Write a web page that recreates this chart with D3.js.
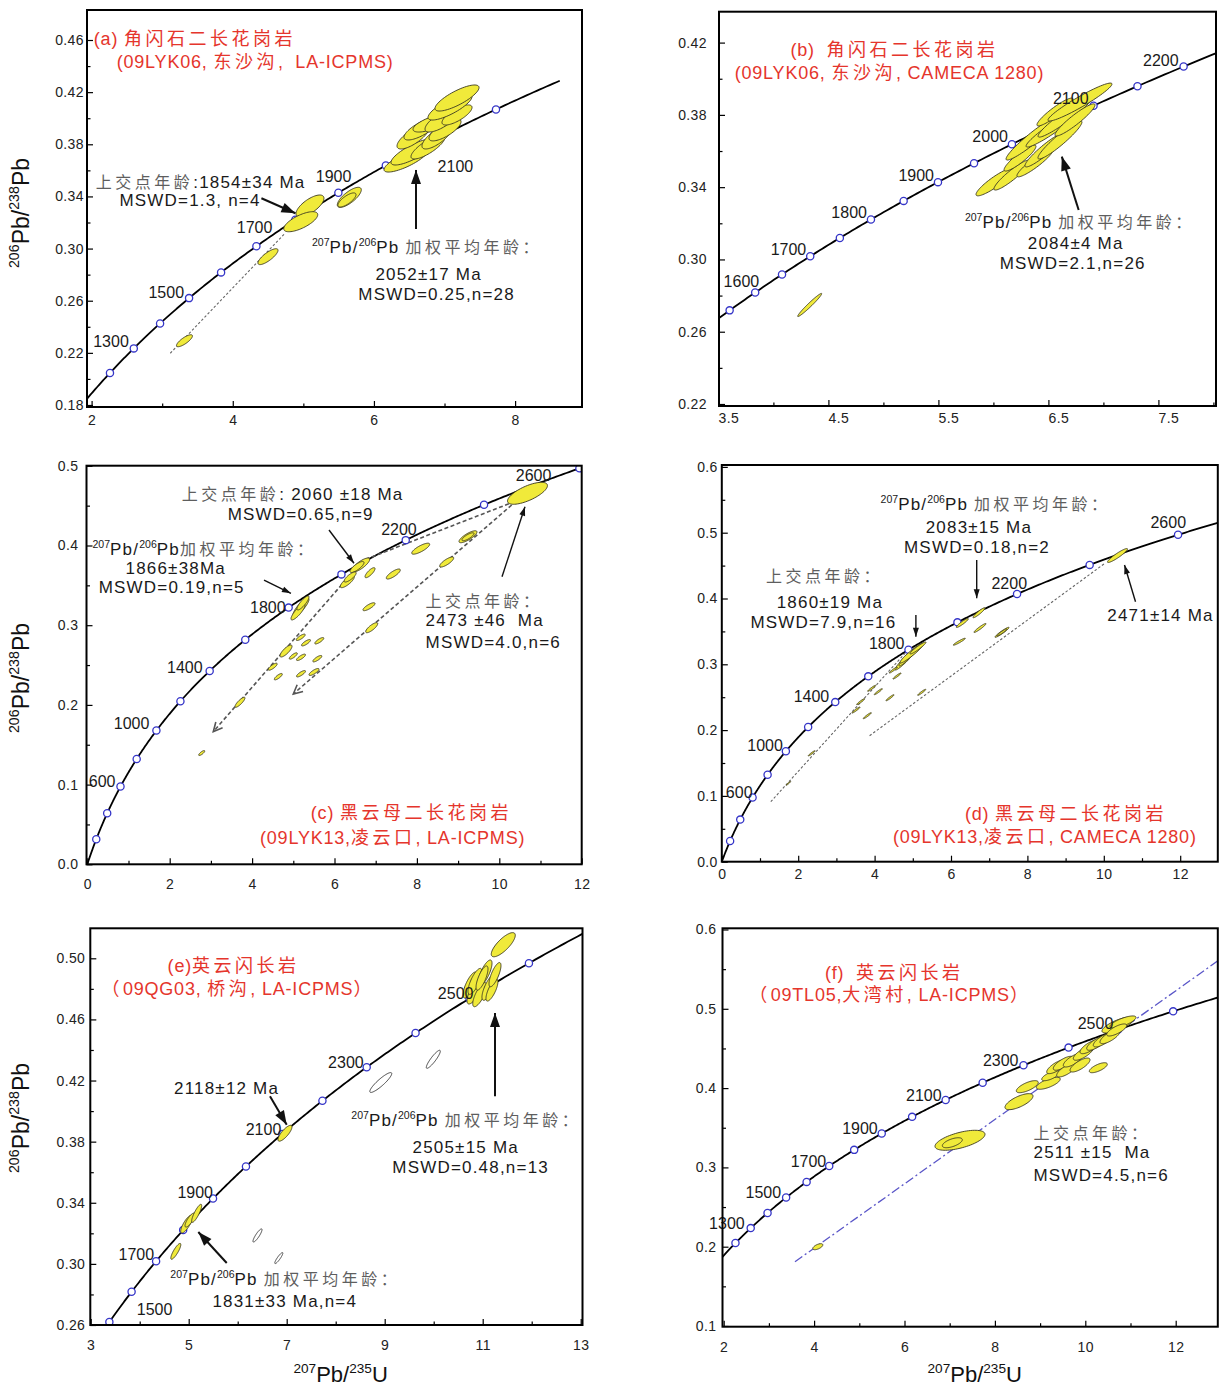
<!DOCTYPE html>
<html>
<head>
<meta charset="utf-8">
<script src="https://cdn.jsdelivr.net/npm/d3@7"></script>
<style>
  body { margin: 0; background: #fff; }
  svg text { white-space: pre; }
</style>
</head>
<body>
<svg id="chart" width="1225" height="1385"></svg>
<script>
// decay constants, per Ma (Steiger & Jaeger)
const LAMBDA_238 = 1.55125e-4;
const LAMBDA_235 = 9.8485e-4;

// ---------- (a) 09LYK06 LA-ICPMS ----------
const ageMarksA = [1200, 1300, 1400, 1500, 1600, 1700, 1800, 1900, 2000, 2100, 2200];
const ageLabelsA = [1300, 1500, 1700, 1900, 2100];
const xTicksA = [2, 4, 6, 8], xMinorA = [3, 5, 7];
const yTicksA = [0.18, 0.22, 0.26, 0.30, 0.34, 0.38, 0.42, 0.46];
const yMinorA = [0.20, 0.24, 0.28, 0.32, 0.36, 0.40, 0.44];
// [207Pb/235U, 206Pb/238U, sx, sy, rho]
const ellipsesA = [
  [6.455, 0.3679, 0.312, 0.0092, 0.8], [6.554, 0.3741, 0.312, 0.0100, 0.8],
  [6.766, 0.3779, 0.241, 0.0092, 0.8], [6.554, 0.3856, 0.227, 0.0092, 0.75],
  [6.894, 0.3856, 0.213, 0.0092, 0.75], [6.667, 0.3917, 0.241, 0.0084, 0.75],
  [7.007, 0.3910, 0.227, 0.0084, 0.75], [6.823, 0.3963, 0.269, 0.0069, 0.7],
  [6.965, 0.3986, 0.241, 0.0092, 0.75], [7.177, 0.4025, 0.213, 0.0077, 0.75],
  [7.078, 0.4086, 0.312, 0.0100, 0.8], [7.177, 0.4155, 0.312, 0.0100, 0.8],
  [5.094, 0.3327, 0.198, 0.0084, 0.7], [4.963, 0.3206, 0.241, 0.0077, 0.7],
  [5.651, 0.3393, 0.170, 0.0077, 0.75], [5.618, 0.3373, 0.128, 0.0054, 0.75],
  [4.499, 0.2938, 0.142, 0.0061, 0.8], [3.316, 0.2293, 0.113, 0.0046, 0.8]
];
const discordiaA = [[[3.115, 0.2197], [4.740, 0.3117]]];
const arrowsA = [[[4.406, 0.3386], [4.888, 0.3271]], [[6.596, 0.3150], [6.596, 0.3603]]];

// ---------- (b) 09LYK06 CAMECA ----------
const ageMarksB = [1550, 1600, 1650, 1700, 1750, 1800, 1850, 1900, 1950, 2000, 2050, 2100, 2150, 2200];
const ageLabelsB = [1600, 1700, 1800, 1900, 2000, 2100, 2200];
const xTicksB = [3.5, 4.5, 5.5, 6.5, 7.5], xMinorB = [4, 5, 6, 7, 8];
const yTicksB = [0.22, 0.26, 0.30, 0.34, 0.38, 0.42];
const yMinorB = [0.24, 0.28, 0.32, 0.36, 0.40];
const ellipsesB = [
  [4.330, 0.2748, 0.109, 0.0064, 0.975],
  [6.015, 0.3429, 0.173, 0.0077, 0.9], [6.169, 0.3467, 0.164, 0.0083, 0.92],
  [6.242, 0.3561, 0.145, 0.0072, 0.9], [6.378, 0.3534, 0.164, 0.0077, 0.92],
  [6.360, 0.3672, 0.245, 0.0122, 0.95], [6.469, 0.3606, 0.182, 0.0094, 0.93],
  [6.605, 0.3661, 0.200, 0.0105, 0.94], [6.542, 0.3727, 0.245, 0.0105, 0.95],
  [6.651, 0.3788, 0.245, 0.0111, 0.95], [6.560, 0.3816, 0.164, 0.0077, 0.92],
  [6.742, 0.3772, 0.182, 0.0089, 0.93], [6.787, 0.3871, 0.291, 0.0105, 0.95]
];
const arrowsB = [[[6.775, 0.3274], [6.622, 0.3569]]];

// ---------- (c) 09LYK13 LA-ICPMS ----------
const ageMarksC = [200, 400, 600, 800, 1000, 1200, 1400, 1600, 1800, 2000, 2200, 2400, 2600];
const ageLabelsC = [600, 1000, 1400, 1800, 2200, 2600];
const xTicksC = [0, 2, 4, 6, 8, 10, 12], xMinorC = [1, 3, 5, 7, 9, 11];
const yTicksC = [0, 0.1, 0.2, 0.3, 0.4, 0.5];
const yMinorC = [0.05, 0.15, 0.25, 0.35, 0.45];
const ellipsesC = [
  [10.684, 0.4655, 0.485, 0.0138, 0.7],
  [9.240, 0.4110, 0.218, 0.0075, 0.8], [9.240, 0.4110, 0.146, 0.0050, 0.8],
  [8.092, 0.3960, 0.218, 0.0069, 0.8], [8.723, 0.3793, 0.170, 0.0063, 0.8],
  [6.636, 0.3755, 0.218, 0.0088, 0.8], [6.546, 0.3730, 0.170, 0.0069, 0.8],
  [6.311, 0.3546, 0.170, 0.0075, 0.8], [6.381, 0.3605, 0.146, 0.0063, 0.8],
  [6.862, 0.3659, 0.121, 0.0063, 0.8], [7.427, 0.3642, 0.170, 0.0063, 0.8],
  [6.837, 0.3232, 0.146, 0.0050, 0.8], [6.903, 0.2969, 0.146, 0.0063, 0.8],
  [5.187, 0.3228, 0.194, 0.0113, 0.85], [5.114, 0.3166, 0.170, 0.0100, 0.85],
  [5.235, 0.3279, 0.146, 0.0088, 0.85],
  [5.180, 0.2848, 0.109, 0.0040, 0.8], [5.308, 0.2780, 0.109, 0.0040, 0.8],
  [5.631, 0.2805, 0.109, 0.0040, 0.8], [4.823, 0.2676, 0.146, 0.0075, 0.8],
  [5.000, 0.2614, 0.097, 0.0040, 0.8], [5.187, 0.2597, 0.109, 0.0040, 0.8],
  [5.583, 0.2580, 0.109, 0.0040, 0.8], [4.500, 0.2479, 0.109, 0.0044, 0.8],
  [4.636, 0.2354, 0.097, 0.0040, 0.8], [5.187, 0.2391, 0.109, 0.0040, 0.8],
  [5.502, 0.2413, 0.121, 0.0044, 0.8], [3.706, 0.2033, 0.121, 0.0063, 0.85],
  [2.777, 0.1396, 0.073, 0.0031, 0.8]
];
const discordiaC = [
  [[6.699, 0.3818], [3.058, 0.1664]],
  [[10.301, 0.4508], [5.000, 0.2137]],
  [[6.757, 0.3827], [10.260, 0.4529]]
];
const arrowsC = [
  [[5.867, 0.4195], [6.473, 0.3777]],
  [[4.289, 0.3567], [4.942, 0.3400]],
  [[10.066, 0.3609], [10.624, 0.4487]]
];

// ---------- (d) 09LYK13 CAMECA ----------
const ageMarksD = [200, 400, 600, 800, 1000, 1200, 1400, 1600, 1800, 2000, 2200, 2400, 2600];
const ageLabelsD = [600, 1000, 1400, 1800, 2200, 2600];
const xTicksD = [0, 2, 4, 6, 8, 10, 12], xMinorD = [1, 3, 5, 7, 9, 11];
const yTicksD = [0, 0.1, 0.2, 0.3, 0.4, 0.5, 0.6];
const yMinorD = [0.05, 0.15, 0.25, 0.35, 0.45, 0.55];
const ellipsesD = [
  [10.359, 0.4653, 0.262, 0.0106, 0.93],
  [6.733, 0.3784, 0.157, 0.0076, 0.93], [6.296, 0.3628, 0.157, 0.0068, 0.93],
  [6.759, 0.3552, 0.157, 0.0068, 0.95], [6.217, 0.3343, 0.157, 0.0053, 0.95],
  [7.335, 0.3486, 0.183, 0.0076, 0.95], [7.335, 0.3486, 0.131, 0.0053, 0.95],
  [4.796, 0.3065, 0.262, 0.0152, 0.95], [4.874, 0.3111, 0.236, 0.0137, 0.95],
  [4.979, 0.3172, 0.314, 0.0152, 0.95], [5.136, 0.3248, 0.209, 0.0091, 0.95],
  [4.490, 0.2913, 0.105, 0.0046, 0.95], [4.586, 0.2822, 0.105, 0.0046, 0.95],
  [3.924, 0.2635, 0.105, 0.0046, 0.95], [4.097, 0.2584, 0.105, 0.0046, 0.95],
  [4.403, 0.2492, 0.105, 0.0046, 0.95], [5.233, 0.2574, 0.105, 0.0046, 0.95],
  [3.636, 0.2432, 0.105, 0.0046, 0.95], [3.513, 0.2305, 0.105, 0.0046, 0.95],
  [3.809, 0.2219, 0.105, 0.0046, 0.95], [2.353, 0.1647, 0.090, 0.0040, 0.95],
  [1.743, 0.1191, 0.060, 0.0030, 0.95]
];
const discordiaD = [
  [[1.283, 0.0912], [4.874, 0.3217]],
  [[3.869, 0.1915], [10.029, 0.4535]]
];
const arrowsD = [
  [[6.673, 0.4585], [6.673, 0.4003]],
  [[5.081, 0.3749], [5.081, 0.3419]],
  [[10.830, 0.3951], [10.542, 0.4509]]
];

// ---------- (e) 09QG03 LA-ICPMS ----------
const ageMarksE = [1500, 1600, 1700, 1800, 1900, 2000, 2100, 2200, 2300, 2400, 2500, 2600];
const ageLabelsE = [1500, 1700, 1900, 2100, 2300, 2500];
const xTicksE = [3, 5, 7, 9, 11, 13], xMinorE = [4, 6, 8, 10, 12];
const yTicksE = [0.26, 0.30, 0.34, 0.38, 0.42, 0.46, 0.50];
const yMinorE = [0.28, 0.32, 0.36, 0.40, 0.44, 0.48];
const ellipsesE = [
  [11.420, 0.5089, 0.245, 0.0079, 0.78],
  [10.741, 0.4825, 0.143, 0.0085, 0.75], [10.843, 0.4786, 0.163, 0.0085, 0.75],
  [10.843, 0.4849, 0.143, 0.0085, 0.75], [10.940, 0.4762, 0.143, 0.0079, 0.75],
  [11.047, 0.4904, 0.143, 0.0085, 0.75], [10.986, 0.4871, 0.122, 0.0079, 0.75],
  [11.128, 0.4810, 0.143, 0.0085, 0.75], [11.189, 0.4792, 0.122, 0.0072, 0.75],
  [11.251, 0.4893, 0.122, 0.0079, 0.75],
  [6.965, 0.3855, 0.143, 0.0052, 0.8],
  [4.959, 0.3261, 0.122, 0.0059, 0.8], [5.027, 0.3287, 0.102, 0.0046, 0.8],
  [5.163, 0.3331, 0.102, 0.0059, 0.85], [4.737, 0.3082, 0.102, 0.0052, 0.85]
];
const openEllipsesE = [
  [8.920, 0.4187, 0.224, 0.0065, 0.9], [9.992, 0.4339, 0.143, 0.0059, 0.9],
  [6.404, 0.3186, 0.092, 0.0043, 0.88], [6.839, 0.3038, 0.082, 0.0036, 0.9]
];
const arrowsE = [
  [[6.659, 0.4097], [7.000, 0.3911]],
  [[11.251, 0.4097], [11.251, 0.4642]],
  [[5.776, 0.3006], [5.196, 0.3209]]
];

// ---------- (f) 09TL05 LA-ICPMS ----------
const ageMarksF = [1200, 1300, 1400, 1500, 1600, 1700, 1800, 1900, 2000, 2100, 2200, 2300, 2400, 2500, 2600];
const ageLabelsF = [1300, 1500, 1700, 1900, 2100, 2300, 2500];
const xTicksF = [2, 4, 6, 8, 10, 12], xMinorF = [3, 5, 7, 9, 11];
const yTicksF = [0.1, 0.2, 0.3, 0.4, 0.5, 0.6];
const yMinorF = [0.15, 0.25, 0.35, 0.45, 0.55];
const ellipsesF = [
  [4.082, 0.2000, 0.111, 0.0038, 0.6],
  [7.228, 0.3342, 0.553, 0.0126, 0.6], [7.058, 0.3311, 0.221, 0.0063, 0.6],
  [8.533, 0.3829, 0.310, 0.0101, 0.7], [8.717, 0.4018, 0.243, 0.0076, 0.7],
  [9.181, 0.4061, 0.265, 0.0076, 0.7], [9.235, 0.4156, 0.199, 0.0063, 0.7],
  [10.288, 0.4257, 0.199, 0.0063, 0.7],
  [9.367, 0.4270, 0.221, 0.0088, 0.75], [9.513, 0.4313, 0.221, 0.0088, 0.75],
  [9.588, 0.4228, 0.221, 0.0088, 0.75], [9.735, 0.4354, 0.221, 0.0088, 0.75],
  [9.883, 0.4291, 0.221, 0.0088, 0.75], [9.956, 0.4439, 0.221, 0.0088, 0.75],
  [10.104, 0.4522, 0.221, 0.0088, 0.75], [10.252, 0.4565, 0.221, 0.0088, 0.75],
  [10.398, 0.4607, 0.221, 0.0088, 0.75], [10.546, 0.4648, 0.221, 0.0088, 0.75],
  [10.723, 0.4796, 0.354, 0.0101, 0.75], [10.834, 0.4834, 0.288, 0.0076, 0.75],
  [10.695, 0.4733, 0.221, 0.0076, 0.75]
];
const discordiaF = [[[3.577, 0.181], [12.98, 0.5624]]];

// ---------- layout ----------
const RED = '#e5352c';
const LATIN = '"Liberation Sans", Arial, sans-serif';
const CJK = '"Noto Sans CJK SC", sans-serif';

const panels = [
  { id: 'a', box: [87, 10, 582, 407], xDomain: [2, 8], xRange: [91.6, 515.1], yDomain: [0.18, 0.46], yRange: [405, 40],
    xTicks: xTicksA, xMinor: xMinorA, yTicks: yTicksA, yMinor: yMinorA, xFmt: 'd', yFmt: '.2f', xPad: 8, yPad: 3, xShift: 0,
    curveMax: 2300,
    ages: ageMarksA, ageLabels: ageLabelsA,
    offsets: { 1300: [-5, -7], 1500: [-5, -6], 1700: [16, -19], 1900: [13, -17], 2100: [35, 29] },
    ellipses: ellipsesA, open: [], lines: discordiaA, lineStyle: 'dot', arrows: arrowsA, arrowStyle: 'big', yTitle: 213,
    notes: [
      ['title', '(a) 角闪石二长花岗岩', 93.8, 38.3],
      ['title', '(09LYK06, 东沙沟,  LA-ICPMS)', 116.7, 61.7],
      ['note', '上交点年龄:1854±34 Ma', 95.7, 181.7],
      ['note', 'MSWD=1.3, n=4', 119.4, 200],
      ['note', '^207Pb/^206Pb 加权平均年龄：', 312, 247.3],
      ['note', '2052±17 Ma', 428.6, 274, 'middle'],
      ['note', 'MSWD=0.25,n=28', 436.6, 294.3, 'middle']
    ] },
  { id: 'b', box: [719, 11.7, 1216, 406], xDomain: [4.5, 7.5], xRange: [828.4, 1158.4], yDomain: [0.22, 0.42], yRange: [404, 42.6],
    xTicks: xTicksB, xMinor: xMinorB, yTicks: yTicksB, yMinor: yMinorB, xFmt: '.1f', yFmt: '.2f', xPad: 7, yPad: 12, xShift: 10,
    ages: ageMarksB, ageLabels: ageLabelsB,
    offsets: { 1600: [4, -11], 1700: [-4, -7], 1800: [-4, -7], 1900: [-4, -7], 2000: [-4, -8], 2100: [-5, -7], 2200: [-5, -6] },
    ellipses: ellipsesB, open: [], lines: [], lineStyle: 'dot', arrows: arrowsB, arrowStyle: 'big',
    notes: [
      ['title', '(b)  角闪石二长花岗岩', 790.4, 50],
      ['title', '(09LYK06, 东沙沟, CAMECA 1280)', 734.7, 72.7],
      ['note', '^207Pb/^206Pb 加权平均年龄：', 964.9, 221.7],
      ['note', '2084±4 Ma', 1075.7, 242.7, 'middle'],
      ['note', 'MSWD=2.1,n=26', 1072.7, 263.3, 'middle']
    ] },
  { id: 'c', box: [86.5, 465.7, 581.7, 864.3], xDomain: [0, 12], xRange: [87.3, 581.7], yDomain: [0, 0.5], yRange: [864.3, 465.8],
    xTicks: xTicksC, xMinor: xMinorC, yTicks: yTicksC, yMinor: yMinorC, xFmt: 'd', yFmt: '.1f', xPad: 15, yPad: 8, xShift: 0,
    ages: ageMarksC, ageLabels: ageLabelsC,
    offsets: { 600: [-5, -5], 1000: [-7, -7], 1400: [-7, -4], 1800: [-3, 0], 2200: [11, -11], 2600: [-28, 7] },
    ellipses: ellipsesC, open: [], lines: discordiaC, lineStyle: 'dash', arrows: arrowsC, arrowStyle: 'small', yTitle: 678,
    notes: [
      ['note', '上交点年龄: 2060 ±18 Ma', 181.8, 494.3],
      ['note', 'MSWD=0.65,n=9', 227.7, 514],
      ['note', '^207Pb/^206Pb加权平均年龄：', 92.5, 549.3],
      ['note', '1866±38Ma', 125.5, 568.3],
      ['note', 'MSWD=0.19,n=5', 98.7, 587.3],
      ['note', '上交点年龄：', 425.6, 600.7],
      ['note', '2473 ±46  Ma', 425.6, 620],
      ['note', 'MSWD=4.0,n=6', 425.6, 641.7],
      ['title', '(c) 黑云母二长花岗岩', 310.8, 813],
      ['title', '(09LYK13,凌云口, LA-ICPMS)', 260, 838]
    ] },
  { id: 'd', box: [721.8, 465, 1217.8, 861.7], xDomain: [0, 12], xRange: [721.8, 1180.2], yDomain: [0, 0.6], yRange: [861.7, 466.9],
    xTicks: xTicksD, xMinor: xMinorD, yTicks: yTicksD, yMinor: yMinorD, xFmt: 'd', yFmt: '.1f', xPad: 7, yPad: 4, xShift: 0,
    ages: ageMarksD, ageLabels: ageLabelsD,
    offsets: { 600: [0, -5], 1000: [-3, -6], 1400: [-6, -6], 1800: [-4, -7], 2200: [10, -11], 2600: [8, -13] },
    ellipses: ellipsesD, open: [], lines: discordiaD, lineStyle: 'dot', arrows: arrowsD, arrowStyle: 'small',
    notes: [
      ['note', '^207Pb/^206Pb 加权平均年龄：', 880.6, 504],
      ['note', '2083±15 Ma', 925.7, 526.7],
      ['note', 'MSWD=0.18,n=2', 904, 547.3],
      ['note', '上交点年龄：', 766, 576],
      ['note', '1860±19 Ma', 776.7, 601.7],
      ['note', 'MSWD=7.9,n=16', 750.4, 621.7],
      ['note', '2471±14 Ma', 1107.3, 615],
      ['title', '(d) 黑云母二长花岗岩', 964.9, 814],
      ['title', '(09LYK13,凌云口, CAMECA 1280)', 893, 836.5]
    ] },
  { id: 'e', box: [90.3, 928.3, 582.5, 1325], xDomain: [3, 13], xRange: [90.7, 580.7], yDomain: [0.26, 0.50], yRange: [1325, 958.3],
    xTicks: xTicksE, xMinor: xMinorE, yTicks: yTicksE, yMinor: yMinorE, xFmt: 'd', yFmt: '.2f', xPad: 15, yPad: 5, xShift: 0,
    ages: ageMarksE, ageLabels: ageLabelsE,
    offsets: { 1500: [63, -13], 1700: [-2, -7], 1900: [0, -6], 2100: [-1, -5], 2300: [-3, -5], 2500: [4, -5] },
    ellipses: ellipsesE, open: openEllipsesE, lines: [], lineStyle: 'dot', arrows: arrowsE, arrowStyle: 'big', yTitle: 1118, xTitle: 340.6,
    notes: [
      ['title', '(e)英云闪长岩', 167.6, 966],
      ['title', '（09QG03, 桥沟, LA-ICPMS）', 101.4, 989],
      ['note', '2118±12 Ma', 174, 1088.3],
      ['note', '^207Pb/^206Pb 加权平均年龄：', 351.3, 1120],
      ['note', '2505±15 Ma', 412.5, 1146.7],
      ['note', 'MSWD=0.48,n=13', 392.3, 1167.3],
      ['note', '^207Pb/^206Pb 加权平均年龄：', 170.3, 1279.3],
      ['note', '1831±33 Ma,n=4', 212.4, 1301]
    ] },
  { id: 'f', box: [722.5, 928.3, 1217.8, 1326.7], xDomain: [2, 12], xRange: [723.7, 1175.7], yDomain: [0.1, 0.6], yRange: [1326, 929.5],
    xTicks: xTicksF, xMinor: xMinorF, yTicks: yTicksF, yMinor: yMinorF, xFmt: 'd', yFmt: '.1f', xPad: 15, yPad: 6, xShift: 0,
    ages: ageMarksF, ageLabels: ageLabelsF,
    offsets: { 1300: [-6, -5], 1500: [-5, -5], 1700: [-3, -5], 1900: [-4, -5], 2100: [-4, -5], 2300: [-5, -5], 2500: [-5, -6] },
    ellipses: ellipsesF, open: [], lines: discordiaF, lineStyle: 'dashdot', arrows: [], arrowStyle: 'big', xTitle: 974.7,
    notes: [
      ['title', '(f)  英云闪长岩', 824.9, 972.5],
      ['title', '（09TL05,大湾村, LA-ICPMS）', 749.2, 995],
      ['note', '上交点年龄：', 1033.5, 1133.3],
      ['note', '2511 ±15  Ma', 1033.5, 1151.7],
      ['note', 'MSWD=4.5,n=6', 1033.5, 1175]
    ] }
];

const textKinds = {
  title: { size: 18, fill: RED, spacing: 0.8, cjkSize: 18, cjkFill: RED, cjkSpacing: 3.5 },
  note: { size: 17, fill: '#1a1a1a', spacing: 1.2, cjkSize: 16, cjkFill: '#5e5e5e', cjkSpacing: 3.5 },
  axis: { size: 23, fill: '#111', spacing: 0, cjkSize: 23, cjkFill: '#111', cjkSpacing: 0 }
};

const svg = d3.select('#chart');
const defs = svg.append('defs');

function addMarker(id, w, h, open, color) {
  const m = defs.append('marker').attr('id', id)
    .attr('viewBox', `0 0 ${w} ${h}`).attr('markerWidth', w).attr('markerHeight', h)
    .attr('refX', w).attr('refY', h / 2).attr('markerUnits', 'userSpaceOnUse')
    .attr('orient', 'auto').attr('overflow', 'visible');
  m.append('path')
    .attr('d', open ? `M0,0L${w},${h / 2}L0,${h}` : `M0,0L${w},${h / 2}L0,${h}Z`)
    .attr('fill', open ? 'none' : color)
    .attr('stroke', open ? color : 'none')
    .attr('stroke-width', 1.6);
}
addMarker('head-big', 14, 10, false, '#111');
addMarker('head-small', 9, 6, false, '#111');
addMarker('head-open', 9, 9, true, '#555');

// text with ^superscripts and CJK runs
function richText(sel, str, k) {
  const re = /\^(\d+)|([\u3000-\u9fff\uff00-\uffef]+)|([^^\u3000-\u9fff\uff00-\uffef]+)/g;
  let m, shift = 0;
  while ((m = re.exec(str)) !== null) {
    const ts = sel.append('tspan');
    let want = 0;
    if (m[1]) {
      ts.text(m[1]).attr('font-size', k.size * 0.62).attr('letter-spacing', 0);
      want = -k.size * 0.42;
    } else if (m[2]) {
      ts.text(m[2]).attr('font-family', CJK).attr('font-size', k.cjkSize)
        .attr('fill', k.cjkFill).attr('letter-spacing', k.cjkSpacing);
    } else {
      ts.text(m[3]);
    }
    if (want !== shift) { ts.attr('dy', want - shift); shift = want; }
  }
}

function addText(parent, kind, str, x, yCenter, anchor) {
  const k = textKinds[kind];
  const t = parent.append('text')
    .attr('x', x).attr('y', yCenter + k.size * 0.36)
    .attr('text-anchor', anchor || 'start')
    .attr('font-family', LATIN).attr('font-size', k.size)
    .attr('fill', k.fill).attr('letter-spacing', k.spacing);
  richText(t, str, k);
  return t;
}

const ratio = t => [Math.expm1(LAMBDA_235 * t), Math.expm1(LAMBDA_238 * t)];

function ellipsePath(e, x, y) {
  const [cx, cy, sx, sy, rho] = e;
  const k = Math.sqrt(1 - rho * rho);
  const pts = d3.range(0, 360, 5).map(a => {
    const t = a * Math.PI / 180;
    return [x(cx + sx * Math.cos(t)), y(cy + sy * (rho * Math.cos(t) + k * Math.sin(t)))];
  });
  return d3.line().curve(d3.curveCardinalClosed)(pts);
}

function drawPanel(p) {
  const [L, T, R, B] = p.box;
  const x = d3.scaleLinear().domain(p.xDomain).range(p.xRange);
  const y = d3.scaleLinear().domain(p.yDomain).range(p.yRange);
  const g = svg.append('g').attr('class', 'panel-' + p.id);

  defs.append('clipPath').attr('id', 'clip-' + p.id)
    .append('rect').attr('x', L).attr('y', T).attr('width', R - L).attr('height', B - T);
  const plot = g.append('g').attr('clip-path', `url(#clip-${p.id})`);

  // concordia curve
  const curveAges = d3.range(0, (p.curveMax || 4600) + 1, 5);
  plot.append('path')
    .datum(curveAges.map(ratio))
    .attr('d', d3.line().x(d => x(d[0])).y(d => y(d[1])))
    .attr('fill', 'none').attr('stroke', '#000').attr('stroke-width', 1.8);

  // discordia / reference lines
  const lineStyle = {
    dot: { stroke: '#666', width: 1.1, dash: '2.5,2' },
    dash: { stroke: '#555', width: 1.6, dash: '4,2.5' },
    dashdot: { stroke: '#5a56c8', width: 1.3, dash: '9,3,2,3' }
  }[p.lineStyle];
  plot.selectAll('line.discordia')
    .data(p.lines)
    .join('line')
    .attr('class', 'discordia')
    .attr('x1', d => x(d[0][0])).attr('y1', d => y(d[0][1]))
    .attr('x2', d => x(d[1][0])).attr('y2', d => y(d[1][1]))
    .attr('stroke', lineStyle.stroke).attr('stroke-width', lineStyle.width)
    .attr('stroke-dasharray', lineStyle.dash)
    .attr('marker-end', (d, i) => (p.lineStyle === 'dash' && i < 2) ? 'url(#head-open)' : null);

  // age marks on the concordia
  plot.selectAll('circle.age')
    .data(p.ages)
    .join('circle')
    .attr('class', 'age')
    .attr('cx', t => x(ratio(t)[0])).attr('cy', t => y(ratio(t)[1]))
    .attr('r', 3.6)
    .attr('fill', '#fff').attr('stroke', '#3535c8').attr('stroke-width', 1.3);

  // error ellipses
  plot.selectAll('path.open')
    .data(p.open)
    .join('path')
    .attr('class', 'open')
    .attr('d', e => ellipsePath(e, x, y))
    .attr('fill', '#fff').attr('stroke', '#444').attr('stroke-width', 1);

  plot.selectAll('path.ell')
    .data(p.ellipses)
    .join('path')
    .attr('class', 'ell')
    .attr('d', e => ellipsePath(e, x, y))
    .attr('fill', '#f0ea3a').attr('stroke', '#3a3820').attr('stroke-width', 0.9);

  // age labels
  g.selectAll('text.agelab')
    .data(p.ageLabels)
    .join('text')
    .attr('class', 'agelab')
    .attr('x', t => x(ratio(t)[0]) + p.offsets[t][0])
    .attr('y', t => y(ratio(t)[1]) + p.offsets[t][1] + 16 * 0.36)
    .attr('text-anchor', 'end')
    .attr('font-family', LATIN).attr('font-size', 16).attr('fill', '#1a1a1a')
    .text(t => t);

  // arrows
  const big = p.arrowStyle === 'big';
  g.selectAll('line.arrow')
    .data(p.arrows)
    .join('line')
    .attr('class', 'arrow')
    .attr('x1', d => x(d[0][0])).attr('y1', d => y(d[0][1]))
    .attr('x2', d => x(d[1][0])).attr('y2', d => y(d[1][1]))
    .attr('stroke', '#111').attr('stroke-width', big ? 2 : 1.4)
    .attr('marker-end', big ? 'url(#head-big)' : 'url(#head-small)');

  // axes (ticks pointing inward)
  const xAxis = g.append('g').attr('transform', `translate(0,${B})`)
    .call(d3.axisBottom(x).tickValues(p.xTicks).tickSize(-6).tickPadding(p.xPad).tickFormat(d3.format(p.xFmt)));
  xAxis.selectAll('text').attr('x', p.xShift);
  g.append('g').attr('transform', `translate(0,${B})`)
    .call(d3.axisBottom(x).tickValues(p.xMinor).tickSize(-3.5).tickFormat(''));
  g.append('g').attr('transform', `translate(${L},0)`)
    .call(d3.axisLeft(y).tickValues(p.yTicks).tickSize(-6).tickPadding(p.yPad).tickFormat(d3.format(p.yFmt)));
  g.append('g').attr('transform', `translate(${L},0)`)
    .call(d3.axisLeft(y).tickValues(p.yMinor).tickSize(-3.5).tickFormat(''));
  g.selectAll('.domain').remove();
  g.selectAll('.tick line').attr('stroke', '#000').attr('stroke-width', 1.2);
  g.selectAll('.tick text')
    .attr('font-family', LATIN).attr('font-size', 14).attr('fill', '#222').attr('letter-spacing', 0.4);

  g.append('rect')
    .attr('x', L).attr('y', T).attr('width', R - L).attr('height', B - T)
    .attr('fill', 'none').attr('stroke', '#000').attr('stroke-width', 2);

  // annotations
  p.notes.forEach(n => addText(g, n[0], n[1], n[2], n[3], n[4]));

  if (p.yTitle) {
    const t = g.append('text')
      .attr('transform', `translate(29,${p.yTitle}) rotate(-90)`)
      .attr('text-anchor', 'middle')
      .attr('font-family', LATIN).attr('font-size', 23).attr('fill', '#111');
    richText(t, '^206Pb/^238Pb', textKinds.axis);
  }
  if (p.xTitle) {
    const t = g.append('text')
      .attr('x', p.xTitle).attr('y', 1382)
      .attr('text-anchor', 'middle')
      .attr('font-family', LATIN).attr('font-size', 22).attr('fill', '#111');
    richText(t, '^207Pb/^235U', { size: 22, cjkSize: 22, cjkFill: '#111', cjkSpacing: 0 });
  }
}

panels.forEach(drawPanel);
</script>
</body>
</html>
